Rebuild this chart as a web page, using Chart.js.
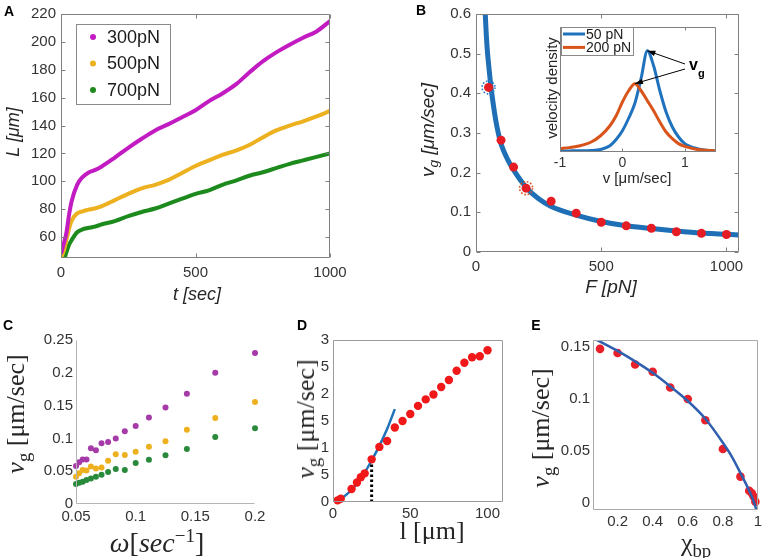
<!DOCTYPE html>
<html>
<head>
<meta charset="utf-8">
<script src="https://cdn.jsdelivr.net/npm/chart.js@4.4.1/dist/chart.umd.min.js"></script>
<style>
  html, body { margin: 0; padding: 0; background: #fff; }
  #fig { position: relative; width: 767px; height: 558px; overflow: hidden;
         font-family: "Liberation Sans", Arial, sans-serif; color: #262626; }
  #fig canvas { position: absolute; left: 0; top: 0; }
  .t { position: absolute; white-space: nowrap; line-height: 1; transform: translate(-50%, -50%); }
  .r { transform: translate(-50%, -50%) rotate(-90deg); }
  .p { font-weight: bold; font-size: 14px; color: #000; }
  .i { font-style: italic; font-size: 19px; }
  .s { font-family: "Liberation Serif", serif; font-size: 26px; }
  sub { font-size: 0.72em; vertical-align: -0.3em; line-height: 0; }
  sup { font-size: 0.68em; vertical-align: 0.55em; line-height: 0; }
</style>
</head>
<body>
<div id="fig">
  <canvas id="cA" width="767" height="558"></canvas>
  <canvas id="cB" width="767" height="558"></canvas>
  <canvas id="cIn" width="767" height="558"></canvas>
  <canvas id="cC" width="767" height="558"></canvas>
  <canvas id="cD" width="767" height="558"></canvas>
  <canvas id="cE" width="767" height="558"></canvas>

  <div class="t p" style="left:9px;top:11px">A</div>
  <div class="t r i" style="left:13px;top:132px;font-size:18px">L [μm]</div>
  <div class="t i" style="left:197px;top:294px;font-size:18px">t [sec]</div>

  <div class="t p" style="left:421px;top:10px">B</div>
  <div class="t r i" style="left:427px;top:130px">v<sub>g</sub> [μm/sec]</div>
  <div class="t i" style="left:611px;top:286px">F [pN]</div>
  <div class="t r" style="left:551px;top:88px;font-size:15px">velocity density</div>
  <div class="t" style="left:637px;top:177px;font-size:15px">v [μm/sec]</div>

  <div class="t p" style="left:8px;top:325px">C</div>
  <div class="t r s" style="left:16px;top:414px"><i>v</i><sub>g</sub> [μm/sec]</div>
  <div class="t s" style="left:157px;top:543px;font-size:28px"><i>ω</i>[<i>sec</i><sup>−1</sup>]</div>

  <div class="t p" style="left:302px;top:325px">D</div>
  <div class="t r s" style="left:306px;top:419px"><i>v</i><sub>g</sub> [μm/sec]</div>
  <div class="t s" style="left:432px;top:531px">l [μm]</div>

  <div class="t p" style="left:536px;top:325px">E</div>
  <div class="t r s" style="left:541px;top:428px"><i>v</i><sub>g</sub> [μm/sec]</div>
  <div class="t s" style="left:696px;top:543px">χ<sub>bp</sub></div>
</div>

<script>
// ---- A: length vs time
const tA = [0, 10, 20, 30, 40, 60, 80, 100, 125, 150, 200, 250, 300, 350, 400, 450, 500, 550, 600, 650, 700, 750, 800, 850, 900, 950, 1000];
const L300 = [48, 55, 63, 76, 86, 97.5, 103, 106, 108, 110.5, 117, 124, 130.5, 136.5, 141, 146, 151, 157.5, 163, 169.5, 178, 186, 192.5, 198, 203, 207.5, 215];
const L500 = [45, 50, 58, 66, 72, 77, 78.5, 79.5, 80.5, 82, 86.5, 91, 95, 97.5, 101, 106, 111, 115, 119, 122, 126, 131.5, 136.5, 140, 143, 146.5, 150.5];
const L700 = [40, 43, 49, 54.5, 58, 63.5, 65.5, 66.5, 67.5, 69, 71.5, 75, 78, 80.5, 84, 87.5, 91, 93.5, 97.5, 100.5, 104, 106.5, 109.5, 112.5, 115, 117.5, 120];
const ticksAx = [0, 500, 1000];
const ticksAy = [60, 80, 100, 120, 140, 160, 180, 200, 220];

// ---- B: vg vs force, with fit and two marked points
const forceB = [50, 100, 150, 200, 300, 400, 500, 600, 700, 800, 900, 1000];
const vgB = [0.415, 0.282, 0.214, 0.161, 0.128, 0.098, 0.075, 0.066, 0.06, 0.051, 0.047, 0.044];
const fitF = [37, 40, 45, 50, 60, 70, 80, 90, 100, 125, 150, 200, 250, 300, 400, 500, 600, 700, 800, 900, 1000, 1050];
const fitV = [0.6, 0.56, 0.51, 0.475, 0.415, 0.368, 0.328, 0.297, 0.272, 0.235, 0.207, 0.163, 0.134, 0.115, 0.093, 0.077, 0.066, 0.059, 0.053, 0.048, 0.045, 0.043];
const ringF = [50, 200];
const ringV = [0.415, 0.161];
const ticksBx = [0, 500, 1000];
const ticksBy = [0, 0.1, 0.2, 0.3, 0.4, 0.5, 0.6];

// ---- B inset: velocity density
const vIn = [-1, -0.85, -0.7, -0.5, -0.35, -0.2, -0.1, 0, 0.1, 0.2, 0.3, 0.4, 0.5, 0.6, 0.7, 0.8, 0.9, 1.0, 1.2, 1.5];
const dens50 = [0.008, 0.009, 0.01, 0.012, 0.02, 0.05, 0.1, 0.17, 0.27, 0.39, 0.59, 0.81, 0.69, 0.49, 0.32, 0.2, 0.12, 0.067, 0.027, 0.006];
const dens200 = [0.027, 0.035, 0.048, 0.08, 0.13, 0.21, 0.29, 0.4, 0.49, 0.547, 0.49, 0.41, 0.33, 0.24, 0.16, 0.107, 0.067, 0.045, 0.02, 0.008];
const ticksInx = [-1, 0, 1];

// ---- C: vg vs omega
const omega = [0.05, 0.0526, 0.0556, 0.0588, 0.0625, 0.0667, 0.0714, 0.0769, 0.0833, 0.0909, 0.1, 0.1111, 0.125, 0.1429, 0.1667, 0.2];
const vgC300 = [0.058, 0.0635, 0.068, 0.068, 0.085, 0.082, 0.0925, 0.0945, 0.1, 0.111, 0.119, 0.132, 0.147, 0.168, 0.2, 0.23];
const vgC500 = [0.0417, 0.0467, 0.0518, 0.051, 0.057, 0.054, 0.0555, 0.066, 0.0757, 0.0747, 0.0797, 0.0874, 0.0955, 0.113, 0.131, 0.1555];
const vgC700 = [0.0305, 0.0325, 0.034, 0.0366, 0.039, 0.0417, 0.0447, 0.0488, 0.0533, 0.0518, 0.0625, 0.0676, 0.0742, 0.0838, 0.102, 0.1154];
const ticksCx = [0.05, 0.1, 0.15, 0.2];
const ticksCy = [0, 0.05, 0.1, 0.15, 0.2, 0.25];

// ---- D: vg vs l
const lenD = [3, 5, 12, 15.5, 18, 20.5, 25, 30, 35, 40, 45, 50, 55, 60, 65, 70, 75, 80, 85, 90, 95, 100];
const vgD = [0.03, 0.06, 0.24, 0.36, 0.46, 0.53, 0.79, 1.02, 1.13, 1.38, 1.5, 1.63, 1.78, 1.9, 1.99, 2.13, 2.26, 2.43, 2.58, 2.68, 2.7, 2.81];
const fitL = [0, 5, 10, 15, 20, 25, 30, 35, 40];
const fitVD = [0, 0.06, 0.17, 0.32, 0.52, 0.77, 1.04, 1.35, 1.72];
const markL = [25, 25];
const markV = [0, 0.74];
const ticksDx = [0, 50, 100];
const ticksDy = [0, 0.5, 1, 1.5, 2, 2.5, 3];

// ---- E: vg vs chi_bp
const chiE = [0.1, 0.2, 0.3, 0.4, 0.5, 0.6, 0.7, 0.8, 0.9, 0.95, 0.965, 0.975, 0.985];
const vgE = [0.148, 0.144, 0.133, 0.126, 0.111, 0.1, 0.0795, 0.052, 0.0255, 0.012, 0.0095, 0.0065, 0.0015];
const fitChi = [0.075, 0.1, 0.2, 0.3, 0.4, 0.5, 0.6, 0.7, 0.8, 0.85, 0.9, 0.95, 0.975, 0.99];
const fitVE = [0.157, 0.155, 0.146, 0.136, 0.125, 0.112, 0.098, 0.081, 0.058, 0.045, 0.029, 0.012, 0.002, -0.006];
const ticksEx = [0.2, 0.4, 0.6, 0.8, 1];
const ticksEy = [0, 0.05, 0.1, 0.15];

const W = 767, H = 558;
const YW = 50, XH = 30; // fixed axis box sizes, so the plot areas land where we want

Chart.defaults.font.family = '"Liberation Sans", Arial, sans-serif';
Chart.defaults.color = '#333';
Chart.defaults.animation = false;

const pts = (xs, ys) => xs.map((x, i) => ({ x, y: ys[i] }));

function line(xs, ys, color, width, extra) {
  return Object.assign({
    data: pts(xs, ys), showLine: true, borderColor: color, backgroundColor: color,
    borderWidth: width, pointRadius: 0, cubicInterpolationMode: 'monotone', fill: false,
  }, extra);
}

function dots(xs, ys, color, r, extra) {
  return Object.assign({
    data: pts(xs, ys), showLine: false, backgroundColor: color, borderColor: color,
    borderWidth: 0, pointRadius: r, clip: false,
  }, extra);
}

function axis(min, max, ticks, opt = {}) {
  return {
    type: 'linear', min, max,
    grid: { display: false, drawTicks: false },
    border: { display: false },
    afterBuildTicks: (s) => { s.ticks = ticks.map(v => ({ value: v })); },
    ticks: {
      display: opt.show !== false,
      padding: opt.pad ?? 5,
      font: { size: opt.size ?? 15 },
      color: '#333',
      callback: opt.fmt || (v => String(v)),
    },
  };
}

// box + inward ticks (matlab look)
const frame = {
  id: 'frame',
  afterDatasetsDraw(chart, args, o) {
    if (!o || !o.color) return;
    const { ctx, chartArea: a, scales } = chart;
    const L = Math.round(a.left) + 0.5, R = Math.round(a.right) - 0.5;
    const T = Math.round(a.top) + 0.5, B = Math.round(a.bottom) - 0.5;
    ctx.save();
    ctx.strokeStyle = o.color;
    ctx.lineWidth = 1;
    ctx.beginPath();
    if (o.full) {
      ctx.rect(L, T, R - L, B - T);
    } else {
      ctx.moveTo(L, T); ctx.lineTo(L, B); ctx.lineTo(R, B);
    }
    if (o.tick) {
      scales.x.ticks.forEach(t => {
        const p = Math.round(scales.x.getPixelForValue(t.value)) + 0.5;
        ctx.moveTo(p, B); ctx.lineTo(p, B - o.tick);
        ctx.moveTo(p, T); ctx.lineTo(p, T + o.tick);
      });
      scales.y.ticks.forEach(t => {
        const p = Math.round(scales.y.getPixelForValue(t.value)) + 0.5;
        ctx.moveTo(L, p); ctx.lineTo(L + o.tick, p);
        ctx.moveTo(R, p); ctx.lineTo(R - o.tick, p);
      });
    }
    ctx.stroke();
    ctx.restore();
  },
};

// legend in a box inside the axes
const boxLegend = {
  id: 'boxLegend',
  afterDraw(chart, args, o) {
    if (!o || !o.box) return;
    const { ctx } = chart;
    const [x, y, w, h] = o.box;
    ctx.save();
    ctx.fillStyle = '#fff';
    ctx.fillRect(x, y, w, h);
    ctx.strokeStyle = '#8a8a8a';
    ctx.lineWidth = 1;
    ctx.strokeRect(x + 0.5, y + 0.5, w, h);
    ctx.font = o.size + 'px "Liberation Sans", Arial, sans-serif';
    ctx.textBaseline = 'middle';
    chart.data.datasets.forEach((ds, i) => {
      if (!ds.label) return;
      const cy = o.row0 + i * o.step;
      if (o.marker === 'dot') {
        ctx.fillStyle = ds.borderColor;
        ctx.beginPath(); ctx.arc(o.mx, cy, 3, 0, Math.PI * 2); ctx.fill();
      } else {
        ctx.strokeStyle = ds.borderColor;
        ctx.lineWidth = ds.borderWidth;
        ctx.beginPath(); ctx.moveTo(o.mx, cy); ctx.lineTo(o.mx2, cy); ctx.stroke();
      }
      ctx.fillStyle = '#1a1a1a';
      ctx.fillText(ds.label, o.tx, cy + 1);
    });
    ctx.restore();
  },
};

Chart.register(frame, boxLegend);

function panel(id, box, scales, datasets, plugins, inline) {
  const [l, t, r, b] = box;
  scales.x.afterFit = s => { s.height = XH; };
  scales.y.afterFit = s => { s.width = YW; };
  return new Chart(document.getElementById(id), {
    type: 'scatter',
    data: { datasets },
    options: {
      responsive: false,
      events: [],
      layout: { padding: { left: l - YW, top: t, right: W - r, bottom: H - b - XH } },
      scales,
      plugins: Object.assign({ legend: { display: false }, tooltip: { enabled: false } }, plugins),
    },
    plugins: inline || [],
  });
}

// A
panel('cA', [61, 9, 330, 258],
  { x: axis(0, 1000, ticksAx, { pad: 6 }), y: axis(45, 220, ticksAy, { pad: 5 }) },
  [
    line(tA, L300, '#c21bc2', 4, { label: '300pN' }),
    line(tA, L500, '#edb120', 4, { label: '500pN' }),
    line(tA, L700, '#1d8a1d', 4, { label: '700pN' }),
  ],
  {
    frame: { color: '#808080', full: true, tick: 4 },
    boxLegend: { box: [76, 24, 94, 80], size: 18, marker: 'dot', mx: 93, tx: 107, row0: 37, step: 26.5 },
  });

// B
const rings = {
  id: 'rings',
  afterDatasetsDraw(chart) {
    const { ctx, scales: { x, y } } = chart;
    const cols = ['#2f80cc', '#d9541a'];
    ringF.forEach((f, i) => {
      ctx.save();
      ctx.setLineDash([1.6, 1.8]);
      ctx.lineWidth = 1.6;
      ctx.strokeStyle = cols[i];
      ctx.beginPath();
      ctx.arc(x.getPixelForValue(f), y.getPixelForValue(ringV[i]), 6.5, 0, Math.PI * 2);
      ctx.stroke();
      ctx.restore();
    });
  },
};
panel('cB', [476, 10, 739, 252],
  { x: axis(0, 1050, ticksBx, { pad: 6 }), y: axis(0, 0.6, ticksBy, { pad: 5 }) },
  [
    dots(forceB, vgB, '#e51c23', 4.5, { order: 0 }),
    line(fitF, fitV, '#1e6fb5', 5, { order: 1 }),
  ],
  { frame: { color: '#808080', full: true, tick: 4 } },
  [rings]);

// B inset
const whiteBg = {
  id: 'whiteBg',
  beforeDatasetsDraw(chart) {
    const { ctx, chartArea: a } = chart;
    ctx.save(); ctx.fillStyle = '#fff';
    ctx.fillRect(a.left, a.top, a.right - a.left, a.bottom - a.top);
    ctx.restore();
  },
};
const peaks = {
  id: 'peaks',
  afterDatasetsDraw(chart) {
    const { ctx, scales: { x, y } } = chart;
    ctx.save();
    ctx.fillStyle = '#000';
    ctx.font = 'bold 16px "Liberation Sans", Arial, sans-serif';
    ctx.fillText('v', 689, 70);
    ctx.font = 'bold 11px "Liberation Sans", Arial, sans-serif';
    ctx.fillText('g', 698, 77);
    ctx.strokeStyle = '#000';
    ctx.lineWidth = 1;
    [[dens50, 64], [dens200, 69]].forEach(([d, sy]) => {
      const k = d.indexOf(Math.max(...d));
      const px = x.getPixelForValue(vIn[k]), py = y.getPixelForValue(d[k]);
      const sx = 685;
      const ang = Math.atan2(py - sy, px - sx);
      ctx.beginPath(); ctx.moveTo(sx, sy); ctx.lineTo(px, py); ctx.stroke();
      ctx.beginPath();
      ctx.moveTo(px, py);
      ctx.lineTo(px - 8 * Math.cos(ang) + 2.8 * Math.sin(ang), py - 8 * Math.sin(ang) - 2.8 * Math.cos(ang));
      ctx.lineTo(px - 8 * Math.cos(ang) - 2.8 * Math.sin(ang), py - 8 * Math.sin(ang) + 2.8 * Math.cos(ang));
      ctx.closePath(); ctx.fill();
    });
    ctx.restore();
  },
};
panel('cIn', [560, 27, 716, 152],
  { x: axis(-1, 1.5, ticksInx, { pad: 3, size: 14 }), y: axis(0, 1, [], { show: false }) },
  [
    line(vIn, dens50, '#1f72bd', 3, { label: '50 pN', order: 1, tension: 0.3 }),
    line(vIn, dens200, '#d9541a', 3, { label: '200 pN', order: 0, tension: 0.3 }),
  ],
  {
    frame: { color: '#808080', full: true, tick: 3 },
    boxLegend: { box: [561, 27, 72, 28], size: 14, marker: 'line', mx: 563, mx2: 585, tx: 586, row0: 34, step: 13.4 },
  },
  [whiteBg, peaks]);

// C
panel('cC', [76, 340, 255, 504],
  { x: axis(0.05, 0.2, ticksCx, { pad: 4 }), y: axis(0, 0.25, ticksCy, { pad: 3 }) },
  [
    dots(omega, vgC300, '#a63aa8', 3),
    dots(omega, vgC500, '#edb120', 3),
    dots(omega, vgC700, '#2a8a3c', 3),
  ],
  { frame: { color: '#b4b4b4', full: false } });

// D
panel('cD', [333, 340, 503, 502],
  {
    x: axis(0, 110, ticksDx, { pad: 3 }),
    y: axis(0, 3, ticksDy, { pad: 4, fmt: v => (Number.isInteger(v) ? String(v) : '5') }),
  },
  [
    dots(lenD, vgD, '#f01818', 4.2, { order: 0 }),
    line(markL, markV, '#000', 3, { order: 1, borderDash: [2.5, 2.5], cubicInterpolationMode: 'default' }),
    line(fitL, fitVD, '#1f72b8', 2.5, { order: 2 }),
  ],
  { frame: { color: '#9a9a9a', full: true } });

// E
panel('cE', [593, 340, 758, 510],
  { x: axis(0.06, 1, ticksEx, { pad: 3 }), y: axis(-0.0065, 0.1565, ticksEy, { pad: 3 }) },
  [
    line(fitChi, fitVE, '#2f5fae', 2.5, { order: 0 }),
    dots(chiE, vgE, '#e8202a', 4.3, { order: 1 }),
  ],
  { frame: { color: '#a8a8a8', full: true } });
</script>
</body>
</html>
